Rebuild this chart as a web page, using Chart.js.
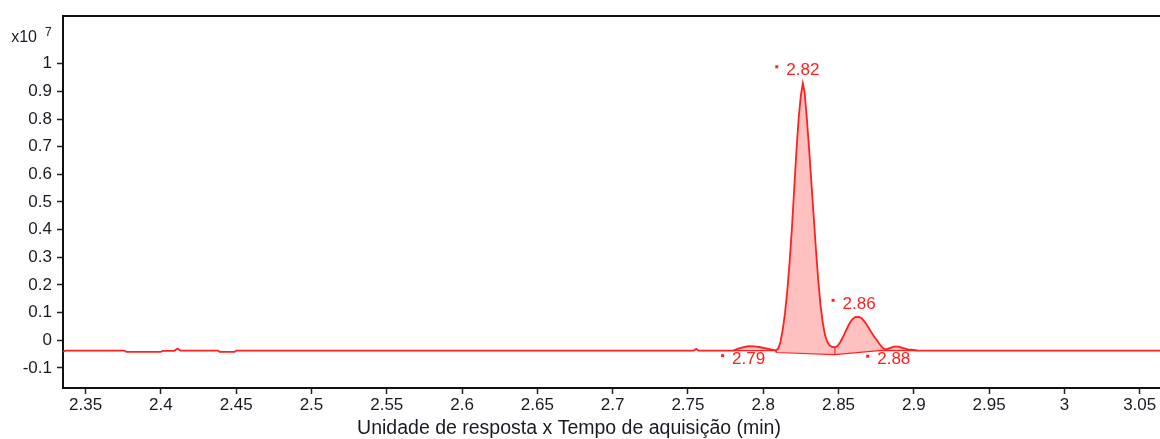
<!DOCTYPE html>
<html>
<head>
<meta charset="utf-8">
<script src="https://cdn.jsdelivr.net/npm/chart.js@4/dist/chart.umd.min.js"></script>
<style>
  html, body { margin: 0; padding: 0; background: #fff; }
  #wrap { width: 1160px; height: 439px; position: relative; }
</style>
</head>
<body>
<div id="wrap"><canvas id="chromChart"></canvas></div>
<script>
// Signal trace (x10^7 counts) against acquisition time (min)
const traceTime = [
  2.3350, 2.3365, 2.3760, 2.3770, 2.4000, 2.4010, 2.4090, 2.4110, 2.4130, 2.4380,
  2.4390, 2.4490, 2.4500, 2.7540, 2.7555, 2.7570, 2.7800, 2.7830, 2.7870, 2.7903,
  2.7940, 2.7980, 2.8010, 2.8050, 2.8085, 2.8100, 2.8115, 2.8130, 2.8145, 2.8160,
  2.8175, 2.8190, 2.8205, 2.8220, 2.8235, 2.8250, 2.8263, 2.8275, 2.8290, 2.8305,
  2.8320, 2.8335, 2.8350, 2.8365, 2.8380, 2.8395, 2.8410, 2.8425, 2.8440, 2.8458,
  2.8476, 2.8495, 2.8510, 2.8530, 2.8550, 2.8570, 2.8590, 2.8610, 2.8637, 2.8655,
  2.8675, 2.8695, 2.8715, 2.8735, 2.8755, 2.8775, 2.8795, 2.8815, 2.8840, 2.8867,
  2.8900, 2.8930, 2.8960, 2.9000, 2.9030, 3.0635
];
const traceSignal = [
  -0.041, -0.037, -0.037, -0.042, -0.042, -0.038, -0.038, -0.030, -0.037, -0.037,
  -0.042, -0.042, -0.037, -0.037, -0.031, -0.037, -0.037, -0.031, -0.025, -0.021,
  -0.022, -0.025, -0.028, -0.033, -0.036, -0.030, -0.005, 0.040, 0.100, 0.180,
  0.280, 0.400, 0.540, 0.680, 0.800, 0.885, 0.929, 0.895, 0.800, 0.690,
  0.570, 0.450, 0.330, 0.220, 0.130, 0.065, 0.020, -0.005, -0.018, -0.024,
  -0.025, -0.020, -0.008, 0.012, 0.036, 0.058, 0.075, 0.084, 0.085, 0.079,
  0.066, 0.050, 0.032, 0.015, 0.000, -0.015, -0.028, -0.033, -0.028, -0.023,
  -0.023, -0.028, -0.033, -0.035, -0.037, -0.037
];

// Integration window and its baseline
const integStart = 2.7800;
const integEnd = 2.9030;
const baseTime = [2.7800, 2.8080, 2.8090, 2.8476, 2.8786, 2.9030];
const baseSignal = [-0.037, -0.037, -0.044, -0.052, -0.036, -0.037];

// Drop lines between integrated peaks
const dropTime = [2.8085, 2.8476];
const dropTop = [-0.036, -0.025];
const dropBottom = [-0.044, -0.052];

// Detected peaks: retention time and apex height
const peakRT = [2.7903, 2.8263, 2.8637, 2.8867];
const peakApex = [-0.021, 0.929, 0.085, -0.023];

// Axis ticks
const xTicks = [2.35, 2.4, 2.45, 2.5, 2.55, 2.6, 2.65, 2.7, 2.75, 2.8, 2.85, 2.9, 2.95, 3, 3.05];
const yTicks = [-0.1, 0, 0.1, 0.2, 0.3, 0.4, 0.5, 0.6, 0.7, 0.8, 0.9, 1];

const xTitle = "Unidade de resposta x Tempo de aquisição (min)";
const RED = '#ff2020';
const INK = '#1a1a24';
const FONT = '"Liberation Sans", Arial, sans-serif';

const tracePts = traceTime.map((t, i) => ({ x: t, y: traceSignal[i] }));
const integPts = tracePts.filter(p => p.x >= integStart && p.x <= integEnd);
const basePts = baseTime.map((t, i) => ({ x: t, y: baseSignal[i] }));
const dropPts = [];
dropTime.forEach((t, i) => {
  dropPts.push({ x: t, y: dropTop[i] }, { x: t, y: dropBottom[i] }, { x: t, y: null });
});

// retention times shown truncated to 2 decimals
const rtLabel = rt => (Math.floor(rt * 100 + 1e-9) / 100).toFixed(2);

const decorPlugin = {
  id: 'decor',
  afterDraw(chart) {
    const { ctx, chartArea, scales } = chart;
    ctx.save();
    // top frame line
    ctx.strokeStyle = '#111';
    ctx.lineWidth = 2;
    ctx.beginPath();
    ctx.moveTo(chartArea.left, chartArea.top);
    ctx.lineTo(chartArea.right, chartArea.top);
    ctx.stroke();

    // exponent label
    ctx.fillStyle = INK;
    ctx.textBaseline = 'middle';
    ctx.textAlign = 'right';
    ctx.font = '16px ' + FONT;
    ctx.fillText('x10', chartArea.left - 26, chartArea.top + 22);
    ctx.textAlign = 'left';
    ctx.font = '12px ' + FONT;
    ctx.fillText('7', chartArea.left - 18, chartArea.top + 17);

    // axis title
    ctx.textAlign = 'center';
    ctx.font = '19.5px ' + FONT;
    ctx.fillText(xTitle, chartArea.left + 506, chartArea.bottom + 41);

    // peak labels
    ctx.font = '17px ' + FONT;
    peakRT.forEach((rt, i) => {
      const px = scales.x.getPixelForValue(rt);
      const py = scales.y.getPixelForValue(peakApex[i]);
      const cy = peakApex[i] > 0.02 ? py - 13 : py + 13;
      const txt = rtLabel(rt);
      const w = ctx.measureText(txt).width;
      ctx.fillStyle = RED;
      ctx.textAlign = 'center';
      ctx.fillText(txt, px, cy);
      ctx.fillRect(px - w / 2 - 11, cy - 5, 3, 3);
    });
    ctx.restore();
  }
};

new Chart(document.getElementById('chromChart'), {
  type: 'line',
  data: {
    datasets: [
      { data: tracePts, borderColor: RED, borderWidth: 1.8, pointRadius: 0, fill: false, tension: 0 },
      { data: integPts, borderWidth: 0, pointRadius: 0, backgroundColor: 'rgba(255,60,60,0.32)', fill: '+1', tension: 0 },
      { data: basePts, borderColor: RED, borderWidth: 1.2, pointRadius: 0, fill: false, tension: 0 },
      { data: dropPts, borderColor: RED, borderWidth: 1.2, pointRadius: 0, fill: false, spanGaps: false }
    ]
  },
  options: {
    responsive: true,
    maintainAspectRatio: false,
    animation: false,
    events: [],
    layout: { padding: { top: 16, right: 0, left: 0, bottom: 0 } },
    plugins: { legend: { display: false }, tooltip: { enabled: false } },
    scales: {
      x: {
        type: 'linear',
        min: 2.3350,
        max: 3.0635,
        afterBuildTicks: s => { s.ticks = xTicks.map(v => ({ value: v })); },
        afterFit: s => { s.height = 51; },
        grid: { drawOnChartArea: false, drawTicks: true, tickLength: 6, tickColor: '#222', tickWidth: 1.5 },
        border: { display: true, color: '#111', width: 2 },
        ticks: {
          color: INK, padding: 1, maxRotation: 0, autoSkip: false,
          font: { family: FONT, size: 17 },
          callback: v => String(Number(v.toFixed(2)))
        }
      },
      y: {
        type: 'linear',
        min: -0.1723,
        max: 1.1723,
        afterBuildTicks: s => { s.ticks = yTicks.map(v => ({ value: v })); },
        afterFit: s => { s.width = 63; },
        grid: { drawOnChartArea: false, drawTicks: true, tickLength: 6, tickColor: '#222', tickWidth: 1.5 },
        border: { display: true, color: '#111', width: 2 },
        ticks: {
          color: INK, padding: 5, autoSkip: false,
          font: { family: FONT, size: 17 },
          callback: v => String(Number(v.toFixed(1)))
        }
      }
    }
  },
  plugins: [decorPlugin]
});
</script>
</body>
</html>
